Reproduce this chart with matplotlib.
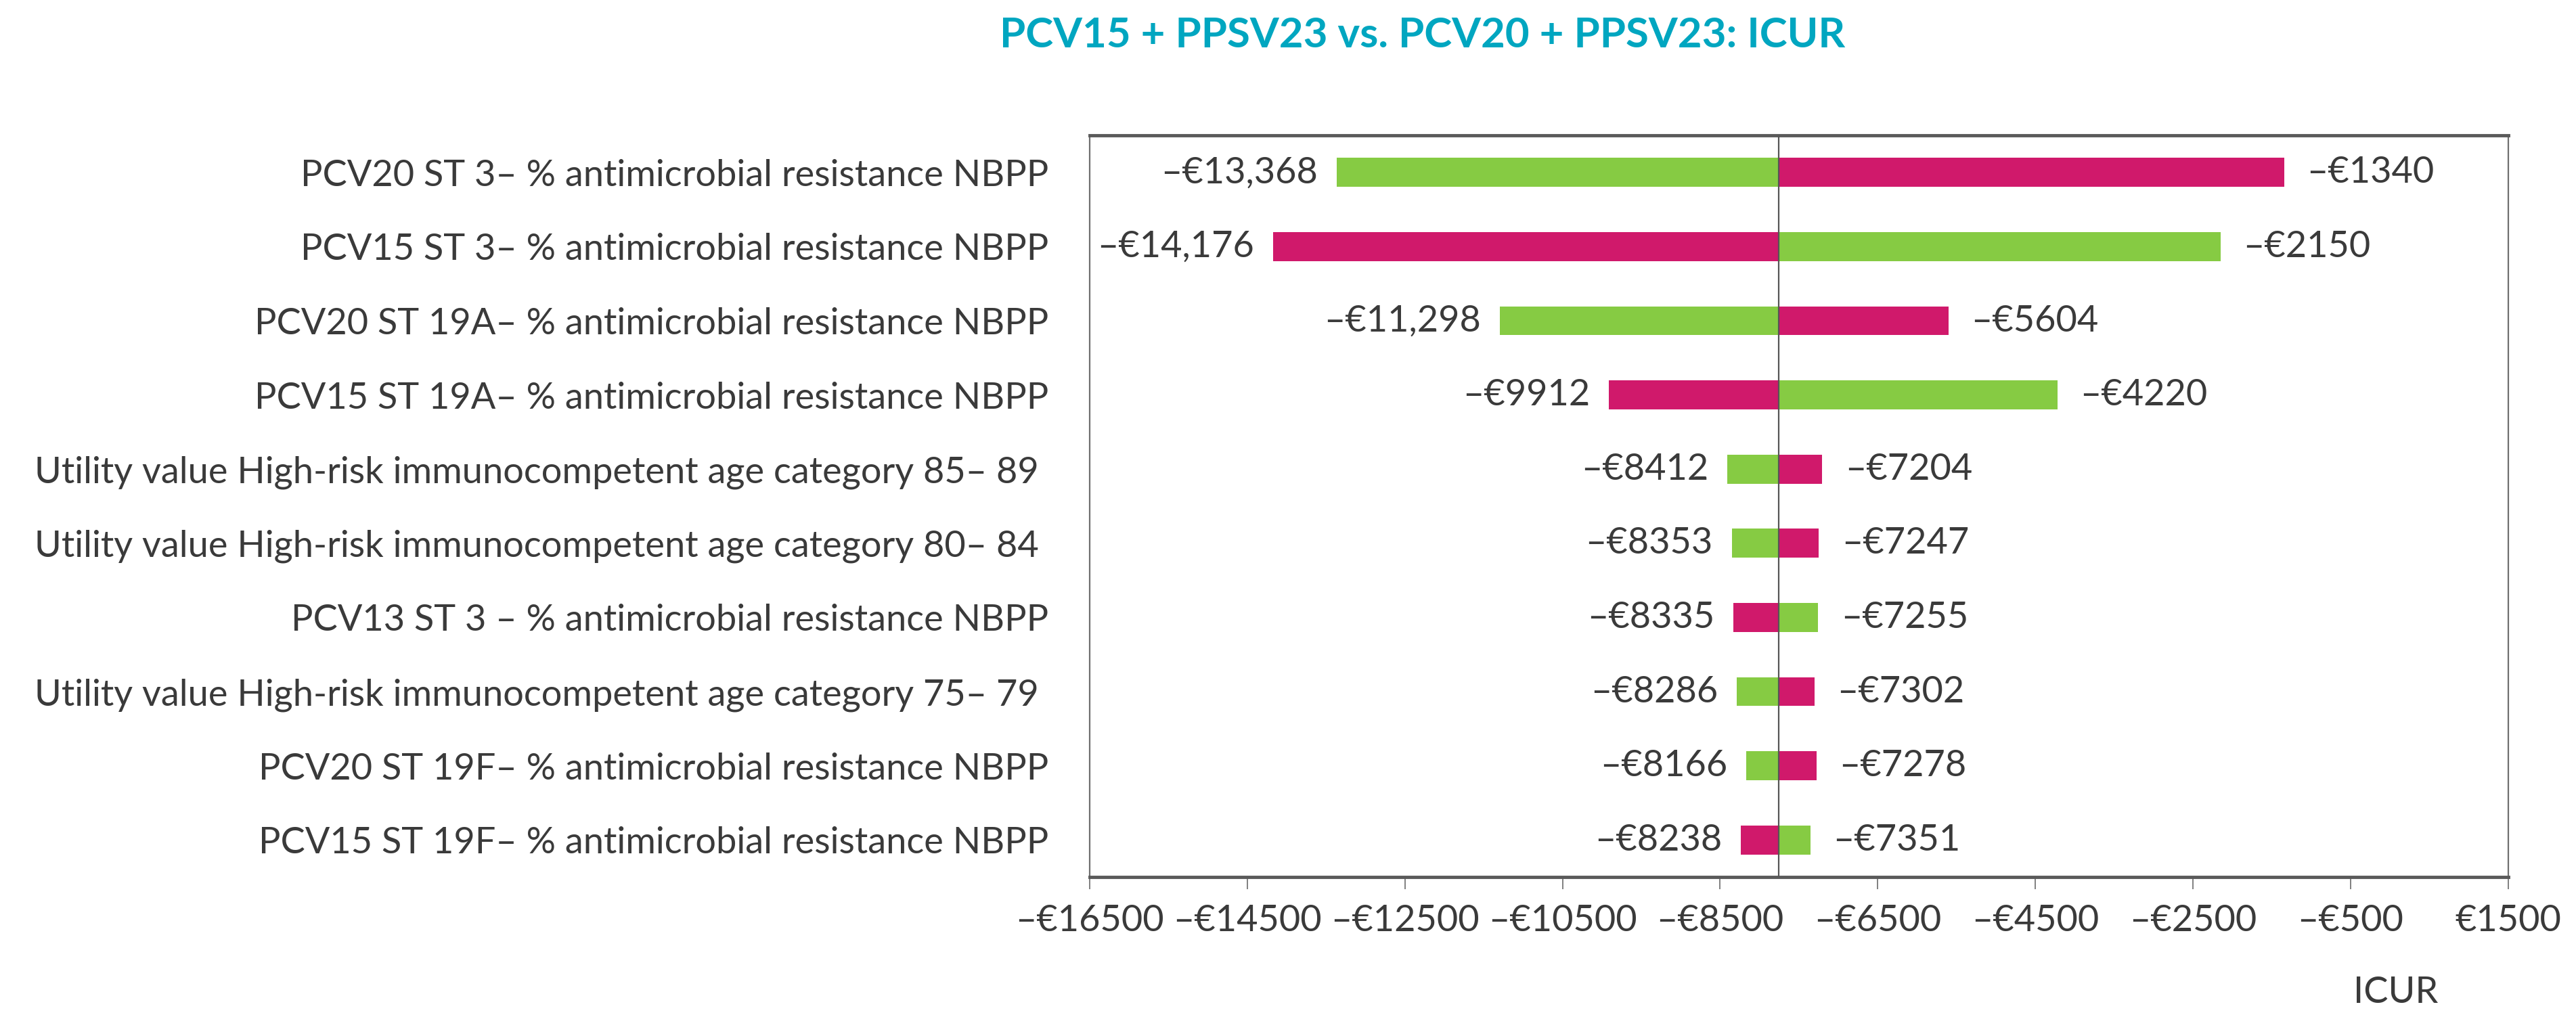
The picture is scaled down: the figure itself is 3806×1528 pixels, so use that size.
import matplotlib.pyplot as plt
import numpy as np

plt.rcParams['font.family'] = ['Lato', 'DejaVu Sans']

categories = [
    'PCV20 ST 3\u2013 % antimicrobial resistance NBPP',
    'PCV15 ST 3\u2013 % antimicrobial resistance NBPP',
    'PCV20 ST 19A\u2013 % antimicrobial resistance NBPP',
    'PCV15 ST 19A\u2013 % antimicrobial resistance NBPP',
    'Utility value High-risk immunocompetent age category 85\u2013 89 ',
    'Utility value High-risk immunocompetent age category 80\u2013 84 ',
    'PCV13 ST 3 \u2013 % antimicrobial resistance NBPP',
    'Utility value High-risk immunocompetent age category 75\u2013 79 ',
    'PCV20 ST 19F\u2013 % antimicrobial resistance NBPP',
    'PCV15 ST 19F\u2013 % antimicrobial resistance NBPP',
]
green_vals = [-13368, -2150, -11298, -4220, -8412, -8353, -7255, -8286, -8166, -7351]
magenta_vals = [-1340, -14176, -5604, -9912, -7204, -7247, -8335, -7302, -7278, -8238]
base_icur = -7760
xticks = list(range(-16500, 1501, 2000))

GREEN = '#86CB43'
MAGENTA = '#D0196B'
TEXT = '#3a3a3a'


def euro(v, comma=True):
    s = '{:,}'.format(abs(v)) if (comma and abs(v) >= 10000) else str(abs(v))
    return ('\u2013\u20ac' if v < 0 else '\u20ac') + s


fig = plt.figure(figsize=(38.06, 15.28), dpi=100)
ax = fig.add_axes([0.4230, 0.1518, 0.5507, 0.7173])

y = np.arange(len(categories))
h = 0.39
ax.barh(y, np.array(green_vals) - base_icur, left=base_icur, height=h, color=GREEN, zorder=2)
ax.barh(y, np.array(magenta_vals) - base_icur, left=base_icur, height=h, color=MAGENTA, zorder=2)
ax.axvline(base_icur, color='#555555', lw=1.6, zorder=3)

fs = 39
for i in range(len(categories)):
    for v in (green_vals[i], magenta_vals[i]):
        if v < base_icur:
            ax.annotate(euro(v), (v, i), xytext=(-20, 0), textcoords='offset points',
                        ha='right', va='center', fontsize=fs, color=TEXT,
                        bbox=dict(facecolor='white', edgecolor='none', pad=6), zorder=5)
        else:
            ax.annotate(euro(v), (v, i), xytext=(24, 0), textcoords='offset points',
                        ha='left', va='center', fontsize=fs, color=TEXT,
                        bbox=dict(facecolor='white', edgecolor='none', pad=6), zorder=5)

ax.set_xlim(-16500, 1500)
ax.set_ylim(len(categories) - 0.5, -0.5)
ax.set_xticks(xticks)
ax.set_xticklabels([euro(t, comma=False) for t in xticks], fontsize=fs, color=TEXT)
ax.set_yticks(y)
ax.set_yticklabels(categories, fontsize=fs, color=TEXT)
ax.tick_params(axis='y', length=0, pad=44)
ax.tick_params(axis='x', direction='out', length=13, width=1.4, color='#808080', pad=16)

for side in ('left', 'right'):
    ax.spines[side].set_color('#707070')
    ax.spines[side].set_linewidth(1.6)
for side in ('top', 'bottom'):
    ax.spines[side].set_color('#5a5a5a')
    ax.spines[side].set_linewidth(3.5)

fig.text(0.5523, 0.966, 'PCV15 + PPSV23 vs. PCV20 + PPSV23: ICUR', ha='center', va='center',
         fontsize=44.5, fontweight='bold', color='#00A6C0')
fig.text(3540 / 3806, 1 - 1466 / 1528, 'ICUR', ha='center', va='center', fontsize=fs, color=TEXT)

fig.savefig('out.png', dpi=100, facecolor='white')
